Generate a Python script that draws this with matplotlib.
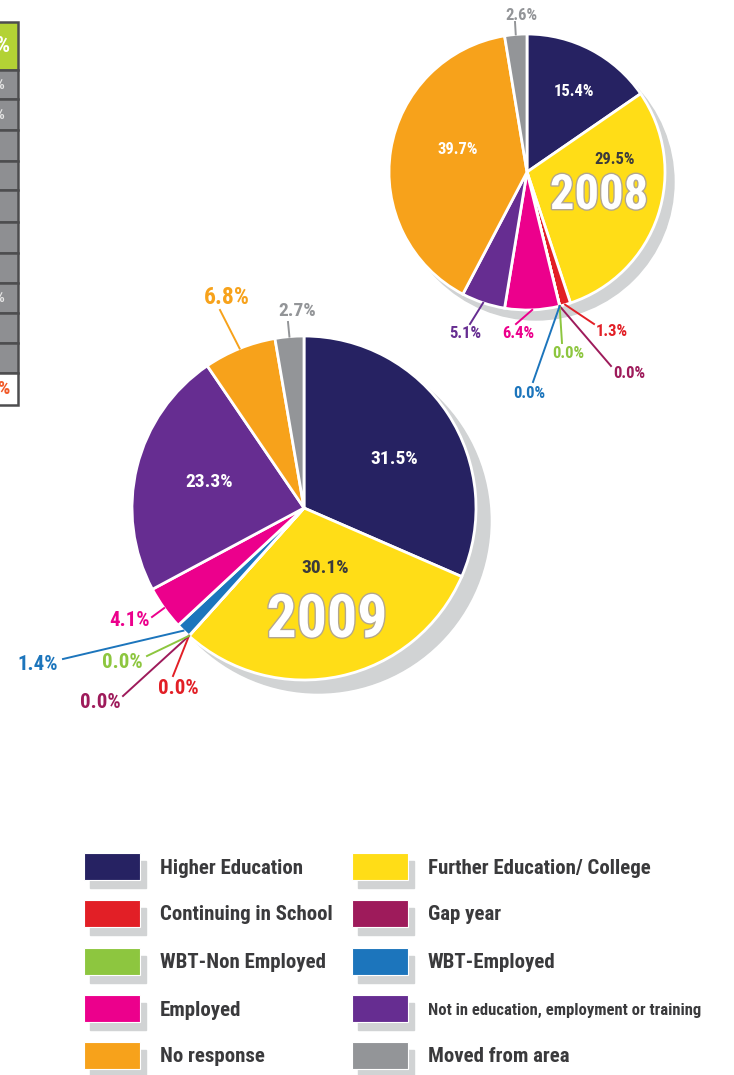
import numpy as np
import matplotlib
matplotlib.use('Agg')
from matplotlib import pyplot as plt
from matplotlib import font_manager
from matplotlib.patches import Rectangle, Circle
import matplotlib.patheffects as pe

# 画布大小（像素）
W, H = 734, 1075

# 数据
categories = ['Higher Education', 'Further Education/ College', 'Continuing in School',
              'Gap year', 'WBT-Non Employed', 'WBT-Employed', 'Employed',
              'Not in education, employment or training', 'No response', 'Moved from area']
colors = ['#262262', '#ffdd17', '#e21f26', '#9e1b5b', '#8dc63f',
          '#1c75bc', '#ec008c', '#662d91', '#f7a21b', '#939598']
values_2008 = [15.4, 29.5, 1.3, 0.0, 0.0, 0.0, 6.4, 5.1, 39.7, 2.6]
values_2009 = [31.5, 30.1, 0.0, 0.0, 0.0, 1.4, 4.1, 23.3, 6.8, 2.7]

# 字体：找一个窄体
names = {f.name for f in font_manager.fontManager.ttflist}
FONT = 'Liberation Sans'
for cand in ['Roboto Condensed', 'Liberation Sans Narrow', 'Open Sans Condensed', 'Arial Narrow']:
    if cand in names:
        FONT = cand
        break
plt.rcParams['font.family'] = [FONT, 'DejaVu Sans']

DARK = '#3a3a3c'
SHADOW = '#d1d3d4'

fig = plt.figure(figsize=(W / 100, H / 100), dpi=100)
ax = fig.add_axes([0, 0, 1, 1])


def Y(y):
    return H - y


# 标签布局: 索引 -> (x, y, 字号, 颜色, 引线终点 or None)
layout_2008 = {
    0: (574, 91, 12, 'white', None),
    1: (615, 160, 12, DARK, None),
    2: (612, 332, 12, colors[2], (594, 324)),
    3: (629, 374, 12, colors[3], (611, 366)),
    4: (568, 354, 12, colors[4], (562, 343)),
    5: (529, 394, 12, colors[5], (533, 382)),
    6: (518, 334, 12, colors[6], (516, 324)),
    7: (465, 333, 12, colors[7], (470, 324)),
    8: (458, 150, 12, 'white', None),
    9: (521, 15, 12, colors[9], (515, 22)),
}
layout_2009 = {
    0: (394, 459, 14, 'white', None),
    1: (325, 568, 14, DARK, None),
    2: (178, 688, 15, colors[2], (173, 676)),
    3: (100, 702, 15, colors[3], (123, 696)),
    4: (122, 662, 15, colors[4], (147, 656)),
    5: (38, 664, 15, colors[5], (63, 659)),
    6: (130, 621, 15, colors[6], (152, 617)),
    7: (209, 482, 14, 'white', None),
    8: (227, 297, 17, colors[8], (220, 310)),
    9: (297, 311, 14, colors[9], (288, 322)),
}


def draw_pie(values, cx, cy, r, shadow, layout, year, year_pos, year_size):
    ax.add_patch(Circle((cx + shadow[0], Y(cy + shadow[1])), r, color=SHADOW, zorder=0.5))
    wedges, _ = ax.pie(values, colors=colors, startangle=90, counterclock=False,
                       center=(cx, Y(cy)), radius=r,
                       wedgeprops=dict(edgecolor='white', linewidth=2))
    for i, w in enumerate(wedges):
        x, y, size, col, end = layout[i]
        if end is not None:
            mid = np.deg2rad((w.theta1 + w.theta2) / 2)
            sx = cx + r * np.cos(mid)
            sy = Y(cy) + r * np.sin(mid)
            ax.plot([sx, end[0]], [sy, Y(end[1])], color=col, lw=1.4, zorder=3)
        ax.text(x, Y(y), f'{values[i]:.1f}%', color=col, fontsize=size,
                fontweight='bold', ha='center', va='center', zorder=4)
    ax.text(year_pos[0], Y(year_pos[1]), year, color='white', fontsize=year_size,
            fontweight='bold', ha='center', va='center', zorder=4,
            path_effects=[pe.withStroke(linewidth=2, foreground='#b3a78e')])


draw_pie(values_2008, 527, 172, 138, (9, 10), layout_2008, '2008', (599, 196), 35)
draw_pie(values_2009, 304, 508, 172, (14, 13), layout_2009, '2009', (327, 621), 43)

# 左边被裁掉的表格
rows = [22, 70, 99, 130, 161, 190, 222, 253, 283, 313, 343, 373, 405]
for k in range(len(rows) - 1):
    if k == 0:
        fc = '#b3d235'
    elif k == len(rows) - 2:
        fc = 'white'
    else:
        fc = '#8e8f92'
    ax.add_patch(Rectangle((-10, Y(rows[k + 1])), 28, rows[k + 1] - rows[k],
                           facecolor=fc, edgecolor='#4d4d4f', lw=1.8, zorder=2))
ax.text(10, Y(46), '%', color='white', fontsize=16, fontweight='bold',
        ha='right', va='center', zorder=3)
for yy in [85, 115, 298]:
    ax.text(4, Y(yy), '%', color='#e6e6e6', fontsize=11, fontweight='bold',
            ha='right', va='center', zorder=3)
ax.text(9, Y(389), '%', color='#f15a29', fontsize=14, fontweight='bold',
        ha='right', va='center', zorder=3)

# 图例
leg_rows = [853, 900, 948, 995, 1042]
for i, name in enumerate(categories):
    col_x = 84 if i % 2 == 0 else 352
    top = leg_rows[i // 2]
    ax.add_patch(Rectangle((col_x + 6, Y(top + 35)), 56, 27, color=SHADOW, zorder=1))
    ax.add_patch(Rectangle((col_x, Y(top + 27)), 56, 27, facecolor=colors[i],
                           edgecolor='white', lw=0.8, zorder=2))
    fs = 12 if len(name) > 30 else 15
    ax.text(col_x + 76, Y(top + 15), name, color=DARK, fontsize=fs,
            fontweight='bold', ha='left', va='center')

ax.set_xlim(0, W)
ax.set_ylim(0, H)
ax.set_aspect('auto')
ax.axis('off')
fig.savefig('out.png', dpi=100)
